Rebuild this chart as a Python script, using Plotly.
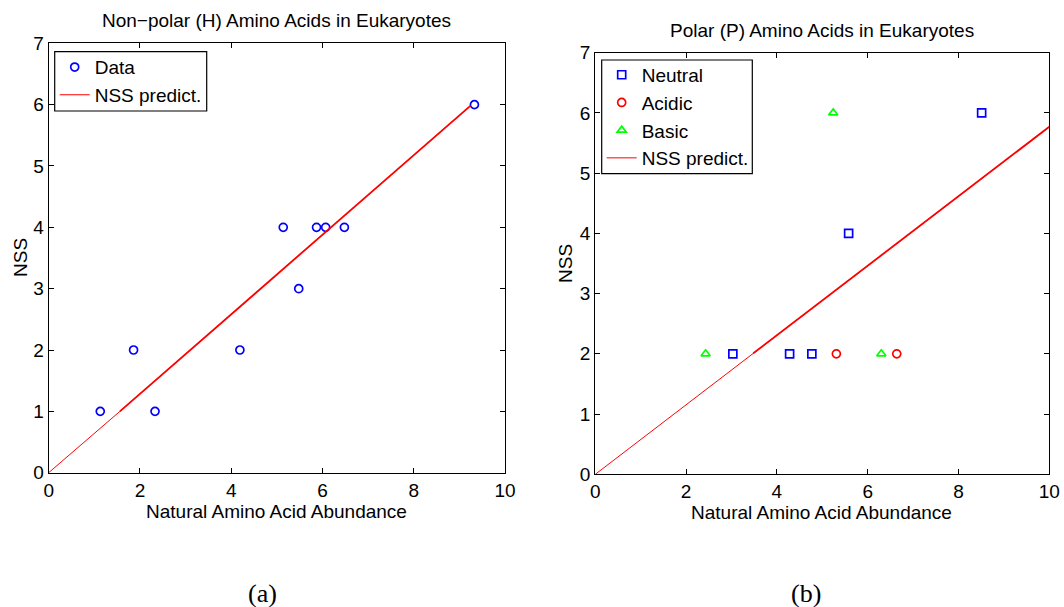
import plotly.graph_objects as go

W, H = 1064, 607

# ---------------- data ----------------
# Panel (a): non-polar amino acids
h_abund = [1.13, 1.86, 2.33, 4.19, 5.14, 5.48, 5.87, 6.07, 6.48, 9.33]
h_nss = [1, 2, 1, 2, 4, 3, 4, 4, 4, 6]
h_pred_x = [0, 1.56, 9.24]
h_pred_y = [0, 1.00, 5.98]

# Panel (b): polar amino acids
neutral_abund = [3.03, 4.28, 4.77, 5.58, 8.51]
neutral_nss = [2, 2, 2, 4, 6]
acidic_abund = [5.31, 6.64]
acidic_nss = [2, 2]
basic_abund = [2.43, 5.24, 6.30]
basic_nss = [2, 6, 2]
p_pred_x = [0, 3.48, 10]
p_pred_y = [0, 2.01, 5.77]

titles = ["Non\u2212polar (H) Amino Acids in Eukaryotes", "Polar (P) Amino Acids in Eukaryotes"]
xlabel = "Natural Amino Acid Abundance"
ylabel = "NSS"
panel_labels = ["(a)", "(b)"]

# ---------------- layout geometry (pixels) ----------------
L_ax = dict(x0=48.7, x1=505.0, y0=43.3, y1=472.7)
R_ax = dict(x0=595.3, x1=1049.3, y0=52.7, y1=474.3)
L_leg = dict(x0=54.7, x1=206.7, y0=51.7, y1=111.0)
R_leg = dict(x0=601.7, x1=752.3, y0=60.0, y1=173.7)

def xd(a):
    return [a["x0"] / W, a["x1"] / W]

def yd(a):
    return [1 - a["y1"] / H, 1 - a["y0"] / H]

FONT = "Liberation Sans, Arial, Helvetica, sans-serif"
FS = 19
BLUE, RED, GREEN = "#0000ff", "#ff0000", "#00ff00"

fig = go.Figure()

# Panel (a)
fig.add_trace(go.Scatter(x=h_abund, y=h_nss, mode="markers", name="Data",
                         marker=dict(symbol="circle-open", size=8, color=BLUE, line=dict(width=1.7, color=BLUE)),
                         xaxis="x", yaxis="y", legend="legend"))
fig.add_trace(go.Scatter(x=h_pred_x, y=h_pred_y, mode="lines", name="NSS predict.",
                         line=dict(color=RED, width=1), xaxis="x", yaxis="y", legend="legend"))
fig.add_trace(go.Scatter(x=h_pred_x[1:], y=h_pred_y[1:], mode="lines", showlegend=False,
                         line=dict(color=RED, width=1.8), xaxis="x", yaxis="y", hoverinfo="skip"))

# Panel (b)
fig.add_trace(go.Scatter(x=neutral_abund, y=neutral_nss, mode="markers", name="Neutral",
                         marker=dict(symbol="square-open", size=8, color=BLUE, line=dict(width=1.7, color=BLUE)),
                         xaxis="x2", yaxis="y2", legend="legend2"))
fig.add_trace(go.Scatter(x=acidic_abund, y=acidic_nss, mode="markers", name="Acidic",
                         marker=dict(symbol="circle-open", size=8, color=RED, line=dict(width=1.7, color=RED)),
                         xaxis="x2", yaxis="y2", legend="legend2"))
fig.add_trace(go.Scatter(x=basic_abund, y=basic_nss, mode="markers", name="Basic",
                         marker=dict(symbol="triangle-up-open", size=8, color=GREEN, line=dict(width=1.7, color=GREEN)),
                         xaxis="x2", yaxis="y2", legend="legend2"))
fig.add_trace(go.Scatter(x=p_pred_x, y=p_pred_y, mode="lines", name="NSS predict.",
                         line=dict(color=RED, width=1), xaxis="x2", yaxis="y2", legend="legend2"))
fig.add_trace(go.Scatter(x=p_pred_x[1:], y=p_pred_y[1:], mode="lines", showlegend=False,
                         line=dict(color=RED, width=1.8), xaxis="x2", yaxis="y2", hoverinfo="skip"))

axis_common = dict(showline=True, mirror="ticks", linecolor="black", linewidth=1.3,
                   ticks="inside", ticklen=5, tickwidth=1, tickcolor="black",
                   showgrid=False, zeroline=False, automargin=False,
                   tickfont=dict(family=FONT, size=FS, color="black"))

fig.update_layout(
    width=W, height=H,
    margin=dict(l=0, r=0, t=0, b=0, pad=0, autoexpand=False),
    paper_bgcolor="white", plot_bgcolor="white",
    font=dict(family=FONT, size=FS, color="black"),
    xaxis=dict(domain=xd(L_ax), range=[0, 10], dtick=2, anchor="y", **axis_common),
    yaxis=dict(domain=yd(L_ax), range=[0, 7], dtick=1, anchor="x", **axis_common),
    xaxis2=dict(domain=xd(R_ax), range=[0, 10], dtick=2, anchor="y2", **axis_common),
    yaxis2=dict(domain=yd(R_ax), range=[0, 7], dtick=1, anchor="x2", **axis_common),
    legend=dict(x=L_leg["x0"] / W, y=1 - 48.2 / H, xanchor="left", yanchor="top",
                borderwidth=0, bgcolor="rgba(0,0,0,0)",
                font=dict(family=FONT, size=FS, color="black")),
    legend2=dict(x=R_leg["x0"] / W, y=1 - 55.9 / H, xanchor="left", yanchor="top",
                 borderwidth=0, bgcolor="rgba(0,0,0,0)",
                 font=dict(family=FONT, size=FS, color="black")),
    showlegend=True,
)

# legend frames (white boxes with black border, as in the original)
for box in (L_leg, R_leg):
    fig.add_shape(type="rect", xref="paper", yref="paper", layer="above",
                  x0=box["x0"] / W, x1=box["x1"] / W, y0=1 - box["y1"] / H, y1=1 - box["y0"] / H,
                  line=dict(color="black", width=1.2), fillcolor="white")

def ann(text, px, py, size=FS, family=FONT, angle=0):
    fig.add_annotation(text=text, x=px / W, y=1 - py / H, xref="paper", yref="paper",
                       xanchor="center", yanchor="middle", showarrow=False, textangle=angle,
                       font=dict(family=family, size=size, color="black"))

ann(titles[0], 276.5, 20.7)
ann(titles[1], 822.0, 30.0)
ann(xlabel, 276.0, 511.7)
ann(xlabel, 821.5, 512.3)
ann(ylabel, 20.0, 258.0, angle=-90)
ann(ylabel, 565.5, 263.5, angle=-90)
ann(panel_labels[0], 262.0, 593.3, size=26, family="Liberation Serif, Times New Roman, serif")
ann(panel_labels[1], 805.5, 593.0, size=26, family="Liberation Serif, Times New Roman, serif")

fig.write_html("out.html")
